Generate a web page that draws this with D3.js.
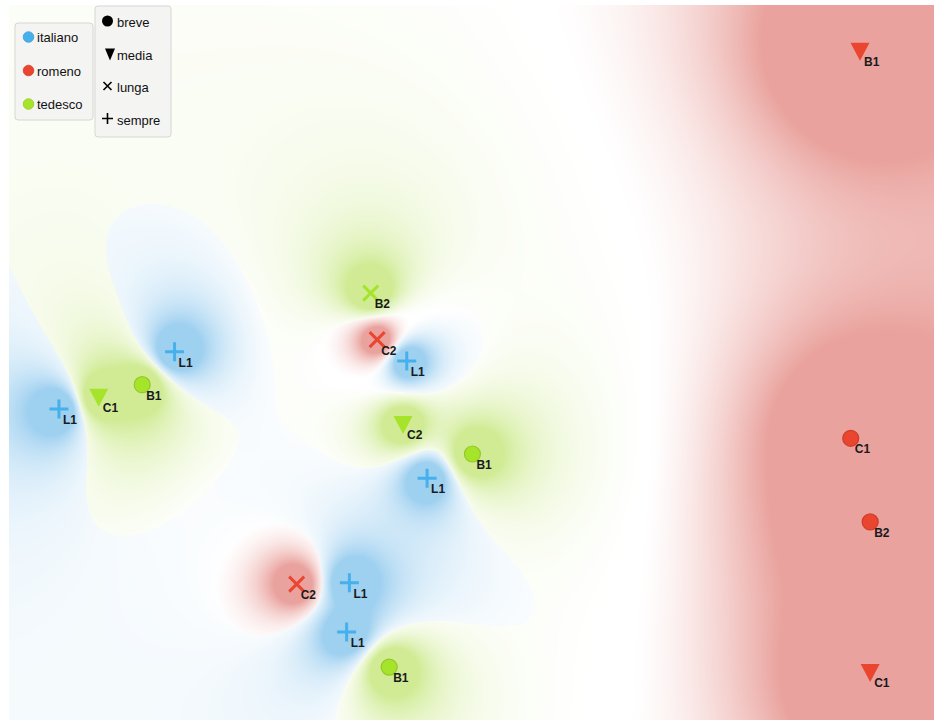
<!DOCTYPE html>
<html><head><meta charset="utf-8">
<script src="https://cdn.jsdelivr.net/npm/d3@7"></script>
<style>
body{margin:0;background:#fff;}
svg{display:block;font-family:"Liberation Sans",Arial,Helvetica,sans-serif;}
</style>
</head><body><div id="chart"></div>
<script>
// ---------- data ----------
const languages = ["italiano", "romeno", "tedesco"];
const durations = ["breve", "media", "lunga", "sempre"];
const pointLang = ["italiano","italiano","italiano","italiano","italiano","italiano",
                   "tedesco","tedesco","tedesco","tedesco","tedesco","tedesco",
                   "romeno","romeno","romeno","romeno","romeno","romeno"];
const pointDur  = ["sempre","sempre","sempre","sempre","sempre","sempre",
                   "breve","media","lunga","media","breve","breve",
                   "lunga","lunga","media","breve","breve","media"];
const pointLabel = ["L1","L1","L1","L1","L1","L1",
                    "B1","C1","B2","C2","B1","B1",
                    "C2","C2","B1","C1","B2","C1"];
const pointX = [17.9, 5.4, 43.0, 45.2, 36.8, 36.5,
                14.4, 9.7, 39.1, 42.6, 50.1, 41.1,
                39.8, 31.1, 92.0, 91.0, 93.1, 93.1];
const pointY = [51.5, 43.5, 50.2, 33.8, 19.2, 12.3,
                46.9, 45.2, 59.7, 41.4, 37.2, 7.4,
                53.2, 19.0, 93.6, 39.4, 27.7, 6.7];

// ---------- styles ----------
const langColors = {italiano: [70, 176, 236], romeno: [234, 69, 47], tedesco: [166, 228, 44]};
const bgColors = {italiano: [60, 160, 225], romeno: [212, 70, 60], tedesco: [160, 215, 40]};
const W = 937, H = 722;
const plot = {x0: 9, x1: 934, y0: 5, y1: 720};

const x = d3.scaleLinear().domain([0, 100]).range([plot.x0, plot.x1]);
const y = d3.scaleLinear().domain([0, 100]).range([plot.y1, plot.y0]);

const pts = pointX.map((v, i) => ({
  x: v, y: pointY[i], lang: pointLang[i], dur: pointDur[i], label: pointLabel[i]
}));

const svg = d3.select("#chart").append("svg").attr("width", W).attr("height", H);

// ---------- background class-density map (inverse-distance class probability) ----------
(function () {
  const w = plot.x1 - plot.x0, h = plot.y1 - plot.y0;
  const cv = document.createElement("canvas");
  cv.width = w; cv.height = h;
  const ctx = cv.getContext("2d");
  const img = ctx.createImageData(w, h);
  const P = pts.map(p => ({px: x(p.x) - plot.x0, py: y(p.y) - plot.y0, c: languages.indexOf(p.lang)}));
  const n = P.length;
  const cols = languages.map(l => bgColors[l]);
  const t0 = 0.36, t1 = 0.78, maxA = 0.5;
  const acc = [0, 0, 0];
  for (let j = 0; j < h; j++) {
    for (let i = 0; i < w; i++) {
      acc[0] = acc[1] = acc[2] = 0;
      for (let k = 0; k < n; k++) {
        const dx = P[k].px - i, dy = P[k].py - j;
        acc[P[k].c] += 1 / (dx * dx + dy * dy + 4);
      }
      const s = acc[0] + acc[1] + acc[2];
      let m = 0;
      for (let c = 1; c < 3; c++) if (acc[c] > acc[m]) m = c;
      const pm = acc[m] / s;
      let a = Math.min(1, Math.max(0, (pm - t0) / (t1 - t0)));
      a = maxA * Math.pow(a, 1.3);
      const col = cols[m];
      const o = (j * w + i) * 4;
      img.data[o] = 255 + (col[0] - 255) * a;
      img.data[o + 1] = 255 + (col[1] - 255) * a;
      img.data[o + 2] = 255 + (col[2] - 255) * a;
      img.data[o + 3] = 255;
    }
  }
  ctx.putImageData(img, 0, 0);
  svg.append("image")
    .attr("x", plot.x0).attr("y", plot.y0)
    .attr("width", w).attr("height", h)
    .attr("preserveAspectRatio", "none")
    .attr("href", cv.toDataURL());
})();

// ---------- markers ----------
const rgb = c => `rgb(${c[0]},${c[1]},${c[2]})`;
const shapePath = {
  breve: d3.symbol(d3.symbolCircle, Math.PI * 8 * 8)(),
  media: "M-9.5,-8L9.5,-8L0,10Z",
  lunga: "M-7.5,-7.5L7.5,7.5M-7.5,7.5L7.5,-7.5",
  sempre: "M-9.5,0H9.5M0,-9.5V9.5"
};
const g = svg.append("g");
const mk = g.selectAll("g.pt").data(pts).join("g").attr("class", "pt")
  .attr("transform", d => `translate(${x(d.x)},${y(d.y)})`);
mk.append("path")
  .attr("d", d => shapePath[d.dur])
  .attr("fill", d => (d.dur === "breve" || d.dur === "media") ? rgb(langColors[d.lang]) : "none")
  .attr("stroke", d => {
    const c = langColors[d.lang];
    if (d.dur === "breve") return d3.rgb(c[0], c[1], c[2]).darker(0.35).toString();
    if (d.dur === "media") return "none";
    return rgb(c);
  })
  .attr("stroke-width", d => (d.dur === "breve" ? 1.2 : 3));
mk.append("text")
  .attr("x", 4).attr("y", 15)
  .attr("font-size", 12).attr("font-weight", "bold").attr("fill", "#1a1a1a")
  .text(d => d.label);

// ---------- legends ----------
const leg1 = svg.append("g");
leg1.append("rect").attr("x", 15).attr("y", 23).attr("width", 78).attr("height", 97)
  .attr("rx", 3).attr("fill", "rgba(243,243,241,0.92)").attr("stroke", "#d6d6d6");
languages.forEach((l, i) => {
  const cy = 37 + i * 33.5;
  leg1.append("circle").attr("cx", 28.5).attr("cy", cy).attr("r", 5.3)
    .attr("fill", rgb(langColors[l])).attr("stroke", d3.rgb(...langColors[l]).darker(0.3)).attr("stroke-width", 0.8);
  leg1.append("text").attr("x", 37).attr("y", cy + 5).attr("font-size", 13).attr("fill", "#111").text(l);
});
const leg2 = svg.append("g");
leg2.append("rect").attr("x", 95).attr("y", 6).attr("width", 76).attr("height", 131)
  .attr("rx", 3).attr("fill", "rgba(243,243,241,0.92)").attr("stroke", "#d6d6d6");
const legShape = {
  breve: d3.symbol(d3.symbolCircle, Math.PI * 5.5 * 5.5)(),
  media: "M-5,-6L5,-6L0,6Z",
  lunga: "M-4,-4L4,4M-4,4L4,-4",
  sempre: "M-5.5,0H5.5M0,-5.5V5.5"
};
durations.forEach((dname, i) => {
  const cy = 21 + i * 32.5;
  leg2.append("path").attr("transform", `translate(${dname === "media" ? 110 : 107.5},${cy + (dname === "media" ? 1 : 0)})`)
    .attr("d", legShape[dname])
    .attr("fill", (dname === "breve" || dname === "media") ? "#000" : "none")
    .attr("stroke", (dname === "breve" || dname === "media") ? "none" : "#000")
    .attr("stroke-width", 1.6);
  leg2.append("text").attr("x", 117).attr("y", cy + 6).attr("font-size", 13).attr("fill", "#111").text(dname);
});
</script>
</body></html>
